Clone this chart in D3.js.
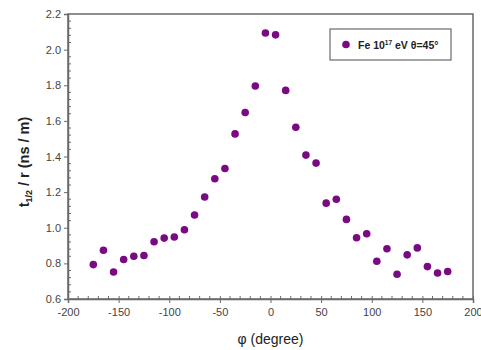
<!DOCTYPE html>
<html>
<head>
<meta charset="utf-8">
<script src="https://cdn.jsdelivr.net/npm/d3@7"></script>
<style>
	body { margin: 0; background: #fff; }
	svg { display: block; font-family: "Liberation Sans", Arial, sans-serif; }
</style>
</head>
<body>
<div id="chart"></div>
<script>
// phi (degree) and t1/2 / r values
const phi = [-175, -165, -155, -145, -135, -125, -115, -105, -95, -85, -75, -65, -55, -45, -35, -25, -15, -5,
	5, 15, 25, 35, 45, 55, 65, 75, 85, 95, 105, 115, 125, 135, 145, 155, 165, 175];
const tHalf = [0.793, 0.874, 0.752, 0.822, 0.840, 0.844, 0.921, 0.942, 0.948, 0.989, 1.072, 1.173, 1.275, 1.333, 1.527, 1.647, 1.796, 2.093,
	2.083, 1.771, 1.564, 1.408, 1.363, 1.138, 1.160, 1.047, 0.944, 0.966, 0.812, 0.882, 0.739, 0.848, 0.887, 0.782, 0.746, 0.754];
const xTicks = [-200, -150, -100, -50, 0, 50, 100, 150, 200];
const yTicks = [0.6, 0.8, 1.0, 1.2, 1.4, 1.6, 1.8, 2.0, 2.2];

const colors = {
	dot: "#7a0a82",
	frame: "#6a6a6a",
	tickText: "#444",
	label: "#222"
};
const width = 481, height = 350;
const margin = { top: 14, right: 8, bottom: 51, left: 68 };

const svg = d3.select("#chart")
	.append("svg")
	.attr("width", width)
	.attr("height", height);

const x = d3.scaleLinear().domain([-200, 200]).range([margin.left, width - margin.right]);
const y = d3.scaleLinear().domain([0.6, 2.2]).range([height - margin.bottom, margin.top]);

// frame
svg.append("rect")
	.attr("x", x(-200))
	.attr("y", y(2.2))
	.attr("width", x(200) - x(-200))
	.attr("height", y(0.6) - y(2.2))
	.attr("fill", "none")
	.attr("stroke", colors.frame)
	.attr("stroke-width", 1.5);

// minor ticks (inside)
const xMinor = d3.range(-200, 201, 10).filter(v => v % 50 !== 0);
svg.append("g").selectAll("line")
	.data(xMinor)
	.enter()
	.append("line")
	.attr("x1", d => x(d)).attr("x2", d => x(d))
	.attr("y1", y(0.6)).attr("y2", y(0.6) - 3)
	.attr("stroke", colors.frame);

const yMinor = d3.range(0.6, 2.2001, 0.04).filter(v => Math.abs(v * 5 - Math.round(v * 5)) > 0.01);
svg.append("g").selectAll("line")
	.data(yMinor)
	.enter()
	.append("line")
	.attr("x1", x(-200)).attr("x2", x(-200) + 3)
	.attr("y1", d => y(d)).attr("y2", d => y(d))
	.attr("stroke", colors.frame);

// axes
const xAxis = svg.append("g")
	.attr("transform", `translate(0, ${y(0.6)})`)
	.call(d3.axisBottom(x).tickValues(xTicks).tickSize(4).tickPadding(5).tickFormat(d => String(d)));
const yAxis = svg.append("g")
	.attr("transform", `translate(${x(-200)}, 0)`)
	.call(d3.axisLeft(y).tickValues(yTicks).tickSize(4).tickPadding(3).tickFormat(d => d.toFixed(1)));

[xAxis, yAxis].forEach(g => {
	g.select(".domain").attr("stroke", colors.frame).attr("stroke-width", 1.5);
	g.selectAll(".tick line").attr("stroke", colors.frame);
	g.selectAll(".tick text")
		.attr("fill", colors.tickText)
		.style("font-family", "Liberation Sans, Arial, sans-serif")
		.style("font-size", "11px");
});
xAxis.selectAll(".tick line").attr("y1", -3);

// points
svg.append("g")
	.selectAll("circle")
	.data(phi.map((p, i) => ({ p, v: tHalf[i] })))
	.enter()
	.append("circle")
	.attr("cx", d => x(d.p))
	.attr("cy", d => y(d.v))
	.attr("r", 3.8)
	.attr("fill", colors.dot);

// axis labels
svg.append("text")
	.attr("x", x(0))
	.attr("y", 344)
	.attr("text-anchor", "middle")
	.attr("fill", colors.label)
	.style("font-size", "14px")
	.text("\u03c6 (degree)");

const yLabel = svg.append("text")
	.attr("transform", `translate(29, 162) rotate(-90)`)
	.attr("text-anchor", "middle")
	.attr("fill", colors.label)
	.style("font-size", "14.5px")
	.style("font-weight", "bold");
yLabel.append("tspan").text("t");
yLabel.append("tspan").attr("dy", 3).style("font-size", "9px").text("1/2");
yLabel.append("tspan").attr("dy", -3).text(" / r (ns / m)");

// legend
const legend = svg.append("g");
legend.append("rect")
	.attr("x", 330).attr("y", 29)
	.attr("width", 121).attr("height", 31)
	.attr("fill", "#fff")
	.attr("stroke", colors.frame)
	.attr("stroke-width", 1.2);
legend.append("circle")
	.attr("cx", 346).attr("cy", 44.5)
	.attr("r", 3.8)
	.attr("fill", colors.dot);
const legText = legend.append("text")
	.attr("x", 358).attr("y", 48.5)
	.attr("fill", colors.label)
	.style("font-size", "10.5px")
	.style("font-weight", "bold");
legText.append("tspan").text("Fe 10");
legText.append("tspan").attr("dy", -4).style("font-size", "6.5px").text("17");
legText.append("tspan").attr("dy", 4).text(" eV \u03b8=45\u00b0");
</script>
</body>
</html>
